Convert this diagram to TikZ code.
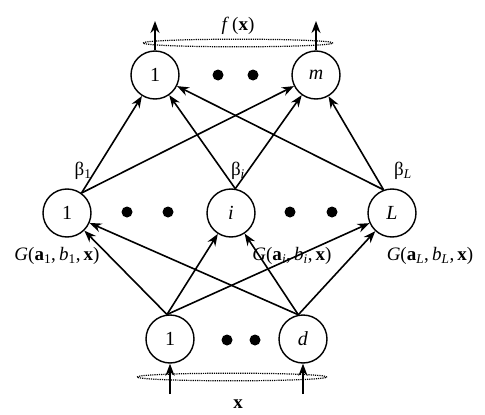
\documentclass[tikz,border=0pt]{standalone}
\usepackage{fontspec}
\setmainfont{Liberation Serif}
\usetikzlibrary{arrows.meta}
\begin{document}
\begin{tikzpicture}[x=1pt,y=-1pt,
 neuron/.style={circle,draw,line width=1.4pt,minimum size=48pt,inner sep=0pt,font=\fontsize{20}{24}\selectfont},
 conn/.style={line width=1.6pt,-{Stealth[length=12pt,width=9pt]}},
 bigdot/.style={circle,fill,inner sep=0pt,minimum size=11pt},
 lbl/.style={font=\fontsize{19}{22}\selectfont,inner sep=0pt},
 bus/.style={draw,dash pattern=on 1.2pt off 1pt,line width=1.2pt}]
\useasboundingbox (0,0) rectangle (485,415);
% output layer
\node[neuron] (o1) at (155,75) {1};
\node[neuron] (om) at (316,75) {\textit{m}};
\node[bigdot] (od1) at (218,75) {};
\node[bigdot] (od2) at (253,75) {};
% hidden layer
\node[neuron] (h1) at (67,213) {1};
\node[neuron] (hi) at (231,213) {\textit{i}};
\node[neuron] (hL) at (392,213) {\textit{L}};
\node[bigdot] (hd1) at (127,212) {};
\node[bigdot] (hd2) at (168,212) {};
\node[bigdot] (hd3) at (290,212) {};
\node[bigdot] (hd4) at (332,212) {};
% input layer
\node[neuron] (in1) at (170,339) {1};
\node[neuron] (ind) at (303,339) {\textit{d}};
\node[bigdot] (id1) at (227,340) {};
\node[bigdot] (id2) at (255,340) {};
% buses
\draw[bus] (238,43) ellipse [x radius=95pt, y radius=3.8pt];
\draw[bus] (232,377) ellipse [x radius=95pt, y radius=3.8pt];
% outputs
\coordinate (t1) at (155,21);
\coordinate (tm) at (316,21);
\draw[conn] (o1.north) -- (t1);
\draw[conn] (om.north) -- (tm);
\node[lbl] (fx) at (238,26) {\textit{f}\,(\textbf{x})};
% inputs
\coordinate (b1) at (170,394);
\coordinate (bd) at (303,394);
\draw[conn] (b1) -- (in1.south);
\draw[conn] (bd) -- (ind.south);
\node[lbl] (xl) at (238,404) {\textbf{x}};
% hidden -> output
\foreach \h/\a in {h1/54, hi/80, hL/110}{
  \draw[conn] (\h.\a) -- (o1);
  \draw[conn] (\h.\a) -- (om);
}
% input -> hidden
\foreach \s/\a in {in1/97, ind/101}{
  \draw[conn] (\s.\a) -- (h1);
  \draw[conn] (\s.\a) -- (hi);
  \draw[conn] (\s.\a) -- (hL);
}
% beta labels
\node[lbl] (b1l) at (83,171) {β\textsubscript{1}};
\node[lbl] (bil) at (238,171) {β\textsubscript{\textit{i}}};
\node[lbl] (bLl) at (403,171) {β\textsubscript{\textit{L}}};
% G labels
\node[lbl] (g1) at (57,256) {\textit{G}(\textbf{a}\textsubscript{1},\,\textit{b}\textsubscript{1},\,\textbf{x})};
\node[lbl] (gi) at (292,256) {\textit{G}(\textbf{a}\textsubscript{\textit{i}},\,\textit{b}\textsubscript{\textit{i}},\,\textbf{x})};
\node[lbl] (gL) at (430,256) {\textit{G}(\textbf{a}\textsubscript{\textit{L}},\,\textit{b}\textsubscript{\textit{L}},\,\textbf{x})};
\end{tikzpicture}
\end{document}
